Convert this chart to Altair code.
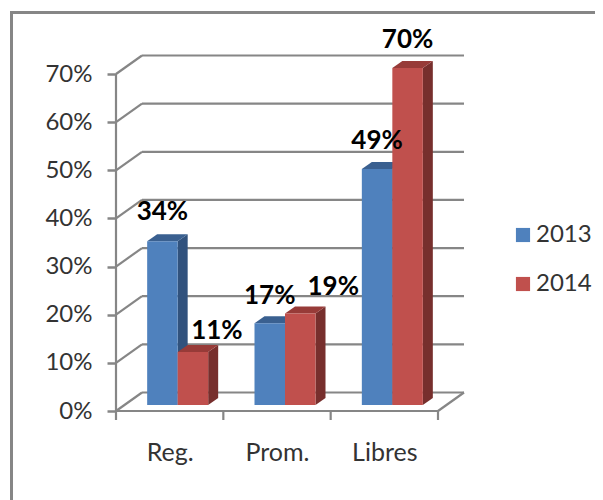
import altair as alt
import pandas as pd

categories = ["Reg.", "Prom.", "Libres"]
years = ["2013", "2014"]
values_2013 = [34, 17, 49]
values_2014 = [11, 19, 70]
y_ticks = [0, 10, 20, 30, 40, 50, 60, 70]
label_nudge_x = [0, 24, 0, 33, 0, 0]
label_nudge_y = [29, 21, 27, 27, 28, 28]

GREY = "#868686"
FRONT = ["#4F81BD", "#C0504D"]
SIDE = {"2013": "#31527D", "2014": "#772F2D"}
TOP = {"2013": "#3A6090", "2014": "#973B38"}
FONT = "Lato"

PX_X = 322 / 3          # pixels for one category
PX_Y = 337 / 70         # pixels for one percent point
W, H = 587, 492
ORIGIN_X, ORIGIN_Y = 108, 403   # where category 0 / 0 % sits in the view

xs = alt.Scale(domain=[-ORIGIN_X / PX_X, (W - ORIGIN_X) / PX_X], range=[0, W], nice=False, zero=False)
ys = alt.Scale(domain=[-(H - ORIGIN_Y) / PX_Y, ORIGIN_Y / PX_Y], range=[H, 0], nice=False, zero=False)

WALL_X, WALL_Y = 26 / PX_X, 18.5 / PX_Y
BASE_X, BASE_Y = 8 / PX_X, 6 / PX_Y
BAR_W = 30.5 / PX_X
DEPTH_X, DEPTH_Y = 10 / PX_X, 7 / PX_Y
X_MAX = len(categories)

fronts, sides, tops, labels = [], [], [], []
i = 0
for c, cat in enumerate(categories):
    for k, (year, vals) in enumerate(zip(years, [values_2013, values_2014])):
        v = vals[c]
        left = c + 0.5 + BASE_X + (k - 1) * BAR_W
        right = left + BAR_W
        bar_id = f"{cat}-{year}"
        fronts.append({"year": year, "x": left, "x2": right, "y": BASE_Y, "y2": BASE_Y + v})
        for t, (sx, sy0, sy1) in enumerate([(right, BASE_Y, BASE_Y + v),
                                            (right + DEPTH_X, BASE_Y + DEPTH_Y, BASE_Y + v + DEPTH_Y)]):
            sides.append({"id": bar_id, "year": year, "x": sx, "y": sy0, "y2": sy1})
        tops.append({"id": bar_id, "year": year, "y": BASE_Y + v, "x": left, "x2": right})
        tops.append({"id": bar_id, "year": year, "y": BASE_Y + v + DEPTH_Y, "x": left + DEPTH_X, "x2": right + DEPTH_X})
        labels.append({"text": f"{v}%", "x": (left + right) / 2 + label_nudge_x[i] / PX_X,
                       "y": BASE_Y + v + label_nudge_y[i] / PX_Y})
        i += 1

# Wall and floor lines
segments = []
for t in y_ticks:
    segments.append({"id": f"d{t}", "x": 0, "y": t})
    segments.append({"id": f"d{t}", "x": WALL_X, "y": t + WALL_Y})
    segments.append({"id": f"b{t}", "x": WALL_X, "y": t + WALL_Y})
    segments.append({"id": f"b{t}", "x": X_MAX + WALL_X, "y": t + WALL_Y})
segments += [{"id": "floor", "x": X_MAX, "y": 0}, {"id": "floor", "x": X_MAX + WALL_X, "y": WALL_Y}]
segments += [{"id": "axisy", "x": 0, "y": 0}, {"id": "axisy", "x": 0, "y": y_ticks[-1]}]
segments += [{"id": "axisx", "x": 0, "y": 0}, {"id": "axisx", "x": X_MAX, "y": 0}]
for c in range(X_MAX + 1):
    segments += [{"id": f"t{c}", "x": c, "y": 0}, {"id": f"t{c}", "x": c, "y": -9 / PX_Y}]

X = lambda: alt.X("x:Q", scale=xs, axis=None)
Y = lambda: alt.Y("y:Q", scale=ys, axis=None)

cat_expr = " : ".join(f"datum.value == {c + 0.5} ? '{n}'" for c, n in enumerate(categories)) + " : ''"

axes = alt.Chart(pd.DataFrame({"x": [0.5, 1.5, 2.5], "y": [0, 0, 0]})).mark_point(opacity=0).encode(
    x=alt.X("x:Q", scale=xs, axis=alt.Axis(
        orient="bottom", offset=-(H - ORIGIN_Y), values=[0.5, 1.5, 2.5], labelExpr=cat_expr, title=None,
        domain=False, ticks=False, grid=False, labelFont=FONT, labelFontSize=25, labelColor="#333333",
        labelPadding=29, labelFlush=False, labelOverlap=False)),
    y=alt.Y("y:Q", scale=ys, axis=alt.Axis(
        orient="left", offset=-ORIGIN_X, values=y_ticks, labelExpr="datum.value + '%'", title=None,
        domain=False, grid=False, ticks=True, tickSize=9, tickWidth=2.5, tickColor=GREY, labelFont=FONT,
        labelFontSize=24, labelColor="#333333", labelPadding=15, labelOverlap=False, labelFlush=False)),
)

lines = alt.Chart(pd.DataFrame(segments)).mark_line(color=GREY, strokeWidth=2.2).encode(
    x=X(), y=Y(), detail="id:N", order="x:Q")

side_df = pd.DataFrame(sides)
side_layer = alt.Chart(side_df).mark_area(orient="vertical", opacity=1).encode(
    x=X(), y=Y(), y2="y2:Q", detail="id:N",
    fill=alt.Fill("year:N", scale=alt.Scale(domain=years, range=[SIDE[y] for y in years]), legend=None))
top_layer = alt.Chart(pd.DataFrame(tops)).mark_area(orient="horizontal", opacity=1).encode(
    x=X(), x2="x2:Q", y=Y(), detail="id:N",
    fill=alt.Fill("year:N", scale=alt.Scale(domain=years, range=[TOP[y] for y in years]), legend=None))

front_layer = alt.Chart(pd.DataFrame(fronts)).mark_bar(opacity=1).encode(
    x=X(), x2="x2:Q", y=Y(), y2="y2:Q",
    color=alt.Color("year:N", scale=alt.Scale(domain=years, range=FRONT), legend=alt.Legend(
        orient="none", legendX=503, legendY=215, title=None, symbolType="square", symbolSize=200,
        symbolStrokeWidth=0, labelFont=FONT, labelFontSize=24, labelColor="#333333", rowPadding=25,
        labelOffset=1)))

label_layer = alt.Chart(pd.DataFrame(labels)).mark_text(
    font=FONT, fontSize=26, fontWeight="bold", color="#000000", align="center", baseline="middle"
).encode(x=X(), y=Y(), text="text:N")

frame_left = alt.Chart(pd.DataFrame({"a": [0]})).mark_rule(color=GREY, strokeWidth=3).encode(
    x=alt.value(3.5), y=alt.value(3.5), y2=alt.value(H))
frame_top = alt.Chart(pd.DataFrame({"a": [0]})).mark_rule(color=GREY, strokeWidth=3).encode(
    x=alt.value(2), x2=alt.value(W), y=alt.value(4.5))

chart = alt.layer(
    frame_left, frame_top, axes, lines, side_layer, top_layer, front_layer, label_layer
).resolve_scale(fill="independent").resolve_axis(x="independent", y="independent").properties(
    width=W, height=H, padding=0, background="white", autosize=alt.AutoSizeParams(type="none")
).configure_view(stroke=None)

chart.save("out.html", embed_options={"renderer": "svg", "actions": False})
